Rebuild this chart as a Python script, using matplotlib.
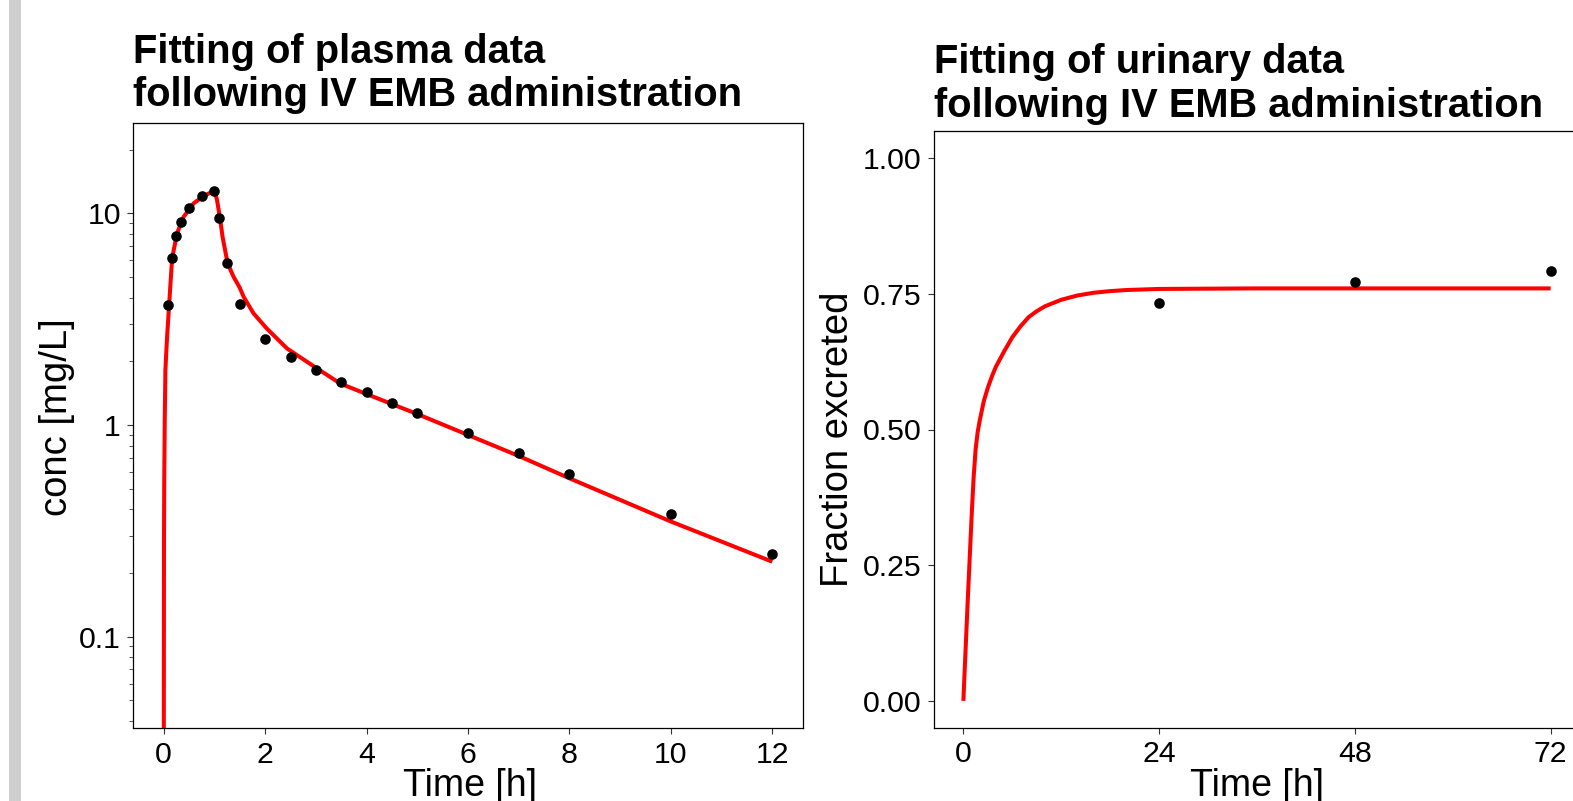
import matplotlib
matplotlib.use("Agg")
import matplotlib.pyplot as plt
from matplotlib.patches import Rectangle
from matplotlib.ticker import LogLocator, NullFormatter, FixedLocator

plt.rcParams['font.family'] = ['Liberation Sans', 'DejaVu Sans']

# ---------------- data ----------------
# Plasma: observed
plasma_time = [0.083, 0.167, 0.25, 0.333, 0.5, 0.75, 1.0, 1.083, 1.25, 1.5,
               2, 2.5, 3, 3.5, 4, 4.5, 5, 6, 7, 8, 10, 12]
plasma_conc = [3.69, 6.13, 7.81, 9.07, 10.62, 12.1, 12.7, 9.47, 5.85, 3.74,
               2.54, 2.09, 1.82, 1.60, 1.43, 1.27, 1.14, 0.917, 0.735, 0.587, 0.379, 0.246]
# Plasma: fitted curve
plasma_fit_time = [0.0005, 0.005, 0.01, 0.02, 0.033, 0.066, 0.1, 0.165, 0.263, 0.394,
                   0.59, 0.787, 1.0, 1.05, 1.115, 1.16, 1.26, 1.376, 1.5, 1.574,
                   1.77, 2.03, 2.43, 2.95, 3.48, 4.0, 4.67, 5.0, 6.0, 7.0,
                   8.0, 10.0, 12.0]
plasma_fit_conc = [0.02, 0.27, 0.54, 1.05, 1.82, 2.61, 3.49, 6.13, 8.05, 9.64,
                   11.15, 12.07, 12.8, 11.6, 9.3, 7.75, 5.8, 5.02, 4.45, 4.04,
                   3.37, 2.86, 2.30, 1.90, 1.57, 1.40, 1.21, 1.127, 0.897, 0.714,
                   0.56, 0.35, 0.226]

# Urine: observed
urine_time = [24, 48, 72]
urine_frac = [0.733, 0.772, 0.792]
# Urine: fitted curve
urine_fit_time = [0, 0.5, 1.0, 1.25, 1.5, 1.75, 2, 2.5, 3, 3.5, 4, 5, 6, 7, 8, 9,
                  10, 12, 14, 16, 18, 20, 24, 36, 48, 72]
urine_fit_frac = [0.0, 0.173, 0.336, 0.41, 0.463, 0.495, 0.516, 0.552, 0.577, 0.598,
                  0.616, 0.644, 0.670, 0.690, 0.707, 0.718, 0.727, 0.739, 0.747, 0.752,
                  0.755, 0.757, 0.759, 0.760, 0.760, 0.760]

plasma_xticks = [0, 2, 4, 6, 8, 10, 12]
plasma_yticks = [0.1, 1, 10]
plasma_yticklabels = ["0.1", "1", "10"]
urine_xticks = [0, 24, 48, 72]
urine_yticks = [0.0, 0.25, 0.5, 0.75, 1.0]
urine_yticklabels = ["0.00", "0.25", "0.50", "0.75", "1.00"]

title_plasma = ["Fitting of plasma data", "following IV EMB administration"]
title_urine = ["Fitting of urinary data", "following IV EMB administration"]

# ---------------- figure ----------------
W, H = 1573, 801
fig = plt.figure(figsize=(W / 100, H / 100), dpi=100)
fig.patch.set_facecolor('white')

# grey bar at left edge
fig.patches.append(Rectangle((9 / W, 0), 12 / W, 1, transform=fig.transFigure,
                             facecolor='#cfcfcf', edgecolor='none'))


def px_axes(l, t, r, b):
    return fig.add_axes([l / W, 1 - b / H, (r - l) / W, (b - t) / H])


TICK_FS = 21.8
LAB_FS = 27.5
XLAB_FS = 27
TITLE_FS = 28.7

ax1 = px_axes(133.3, 122.7, 802.7, 728.3)
ax2 = px_axes(934, 131, 1580, 728)

for ax in (ax1, ax2):
    for s in ax.spines.values():
        s.set_linewidth(0.9)
        s.set_color('black')
    ax.tick_params(which='major', direction='out', length=4, width=0.8,
                   color='#333333', labelsize=TICK_FS, pad=5, labelcolor='black')
    ax.tick_params(which='minor', direction='out', length=3, width=0.7, color='#555555')

# plasma panel
ax1.plot(plasma_fit_time, plasma_fit_conc, color='#ff0000', lw=2.9, zorder=2,
         solid_capstyle='butt', solid_joinstyle='round')
ax1.scatter(plasma_time, plasma_conc, s=58, color='black', zorder=3, linewidths=0)
ax1.set_yscale('log')
ax1.set_ylim(0.0369, 26.8)
ax1.set_xlim(-0.6, 12.6)
ax1.xaxis.set_major_locator(FixedLocator(plasma_xticks))
ax1.set_xticklabels([str(v) for v in plasma_xticks])
ax1.yaxis.set_major_locator(FixedLocator(plasma_yticks))
ax1.set_yticklabels(plasma_yticklabels)
ax1.yaxis.set_minor_locator(LogLocator(base=10, subs=range(2, 10)))
ax1.yaxis.set_minor_formatter(NullFormatter())

# urine panel
ax2.plot(urine_fit_time, urine_fit_frac, color='#ff0000', lw=2.9, zorder=2,
         solid_capstyle='butt', solid_joinstyle='round')
ax2.scatter(urine_time, urine_frac, s=58, color='black', zorder=3, linewidths=0)
ax2.set_xlim(-3.6, 75.6)
ax2.set_ylim(-0.05, 1.05)
ax2.xaxis.set_major_locator(FixedLocator(urine_xticks))
ax2.set_xticklabels([str(v) for v in urine_xticks])
ax2.yaxis.set_major_locator(FixedLocator(urine_yticks))
ax2.set_yticklabels(urine_yticklabels)

# titles (one text per line, left aligned at panel edge)
for line, base in zip(title_plasma, [63.3, 106]):
    fig.text(133 / W, 1 - base / H, line, ha='left', va='baseline',
             fontsize=TITLE_FS, fontweight='bold')
for line, base in zip(title_urine, [73.3, 116.7]):
    fig.text(934 / W, 1 - base / H, line, ha='left', va='baseline',
             fontsize=TITLE_FS, fontweight='bold')

# axis labels
fig.text(470 / W, 1 - 796 / H, "Time [h]", ha='center', va='baseline', fontsize=XLAB_FS)
fig.text(1257 / W, 1 - 796 / H, "Time [h]", ha='center', va='baseline', fontsize=XLAB_FS)
fig.text(57 / W, 1 - 417 / H, "conc [mg/L]", ha='center', va='center',
         rotation=90, fontsize=LAB_FS)
fig.text(838 / W, 1 - 439 / H, "Fraction excreted", ha='center', va='center',
         rotation=90, fontsize=LAB_FS)

fig.savefig("out.png", dpi=100)
